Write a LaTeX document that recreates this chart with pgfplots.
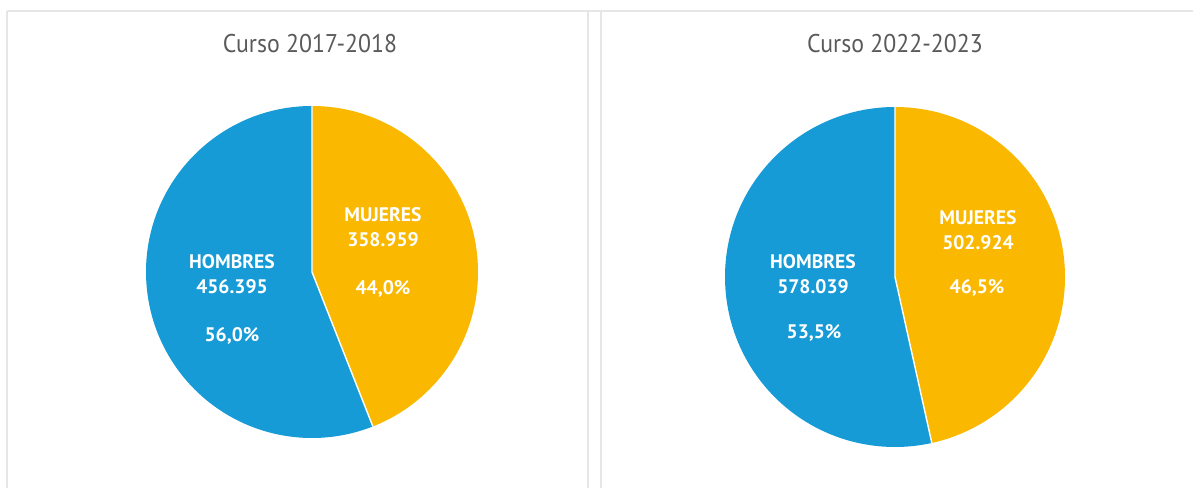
\documentclass[border=0pt]{standalone}
\usepackage{pgfplots}
\usepackage{pgfplotstable}
\pgfplotsset{compat=1.18}
\usepackage{fontspec}
\setmainfont{PT Sans}
\newfontfamily\titlefont[FakeStretch=0.93]{PT Sans}
\definecolor{hblue}{HTML}{179BD7}
\definecolor{myellow}{HTML}{FAB800}
\definecolor{tgrey}{HTML}{5A5A5A}
\definecolor{framec}{HTML}{E6E6E6}
% values in thousands
\pgfplotstableread{
curso hombres mujeres cx cy r
1 456.395 358.959 312 216 166
2 578.039 502.924 895 211 170
}\datatab
\begin{document}
\begin{tikzpicture}
\useasboundingbox (0,0) rectangle (596.5pt,244pt);
\begin{axis}[hide axis, x=0.5pt, y=0.5pt, xmin=0, xmax=1193, ymin=0, ymax=488,
  at={(0,0)}, anchor=origin, clip=false]
\addplot[draw=none] coordinates {(0,0)};
% frame
\draw[framec, line width=0.7pt] (axis cs:7,477) -- (axis cs:1193,477);
\draw[framec, line width=0.7pt] (axis cs:7,477) -- (axis cs:7,0);
\draw[framec, line width=0.7pt] (axis cs:588,477) -- (axis cs:588,0);
\draw[framec, line width=0.7pt] (axis cs:601,477) -- (axis cs:601,0);
\foreach \i in {0,1}{
  \pgfplotstablegetelem{\i}{hombres}\of\datatab \let\hv\pgfplotsretval
  \pgfplotstablegetelem{\i}{mujeres}\of\datatab \let\mv\pgfplotsretval
  \pgfplotstablegetelem{\i}{cx}\of\datatab \let\cx\pgfplotsretval
  \pgfplotstablegetelem{\i}{cy}\of\datatab \let\cy\pgfplotsretval
  \pgfplotstablegetelem{\i}{r}\of\datatab \let\rr\pgfplotsretval
  \pgfmathsetmacro{\frac}{\mv/(\mv+\hv)}
  \pgfmathsetmacro{\ang}{90-360*\frac}
  \pgfmathsetmacro{\angb}{\ang+360}
  \pgfmathsetmacro{\ttop}{\cy+\rr}
  \pgfmathsetmacro{\rad}{0.5*\rr}
  \edef\temp{\noexpand\fill[myellow] (axis cs:\cx,\cy) -- (axis cs:\cx,\ttop) arc[start angle=90, end angle=\ang, radius=\rad pt] -- cycle;
  \noexpand\fill[hblue] (axis cs:\cx,\cy) -- (axis cs:\cx,\ttop) arc[start angle=90, end angle=\angb, radius=\rad pt] -- cycle;
  \noexpand\draw[white, line width=0.7pt] (axis cs:\cx,\ttop) -- (axis cs:\cx,\cy) -- ++(\ang:\rad pt);}
  \temp
}
\node[font=\titlefont\fontsize{12.8}{14}\selectfont, text=tgrey] at (axis cs:310,444) {Curso 2017-2018};
\node[font=\titlefont\fontsize{12.8}{14}\selectfont, text=tgrey] at (axis cs:895,444) {Curso 2022-2023};
\begin{scope}[every node/.style={font=\bfseries\fontsize{9.8}{11}\selectfont, text=white}]
\node at (axis cs:232,226) {HOMBRES};
\node at (axis cs:232,201) {456.395};
\node at (axis cs:232,152) {56,0\%};
\node at (axis cs:383,273) {MUJERES};
\node at (axis cs:383,248) {358.959};
\node at (axis cs:383,199) {44,0\%};
\node at (axis cs:813,226) {HOMBRES};
\node at (axis cs:813,201) {578.039};
\node at (axis cs:814,155) {53,5\%};
\node at (axis cs:978,270) {MUJERES};
\node at (axis cs:978,245) {502.924};
\node at (axis cs:977,200) {46,5\%};
\end{scope}
\end{axis}
\end{tikzpicture}
\end{document}
